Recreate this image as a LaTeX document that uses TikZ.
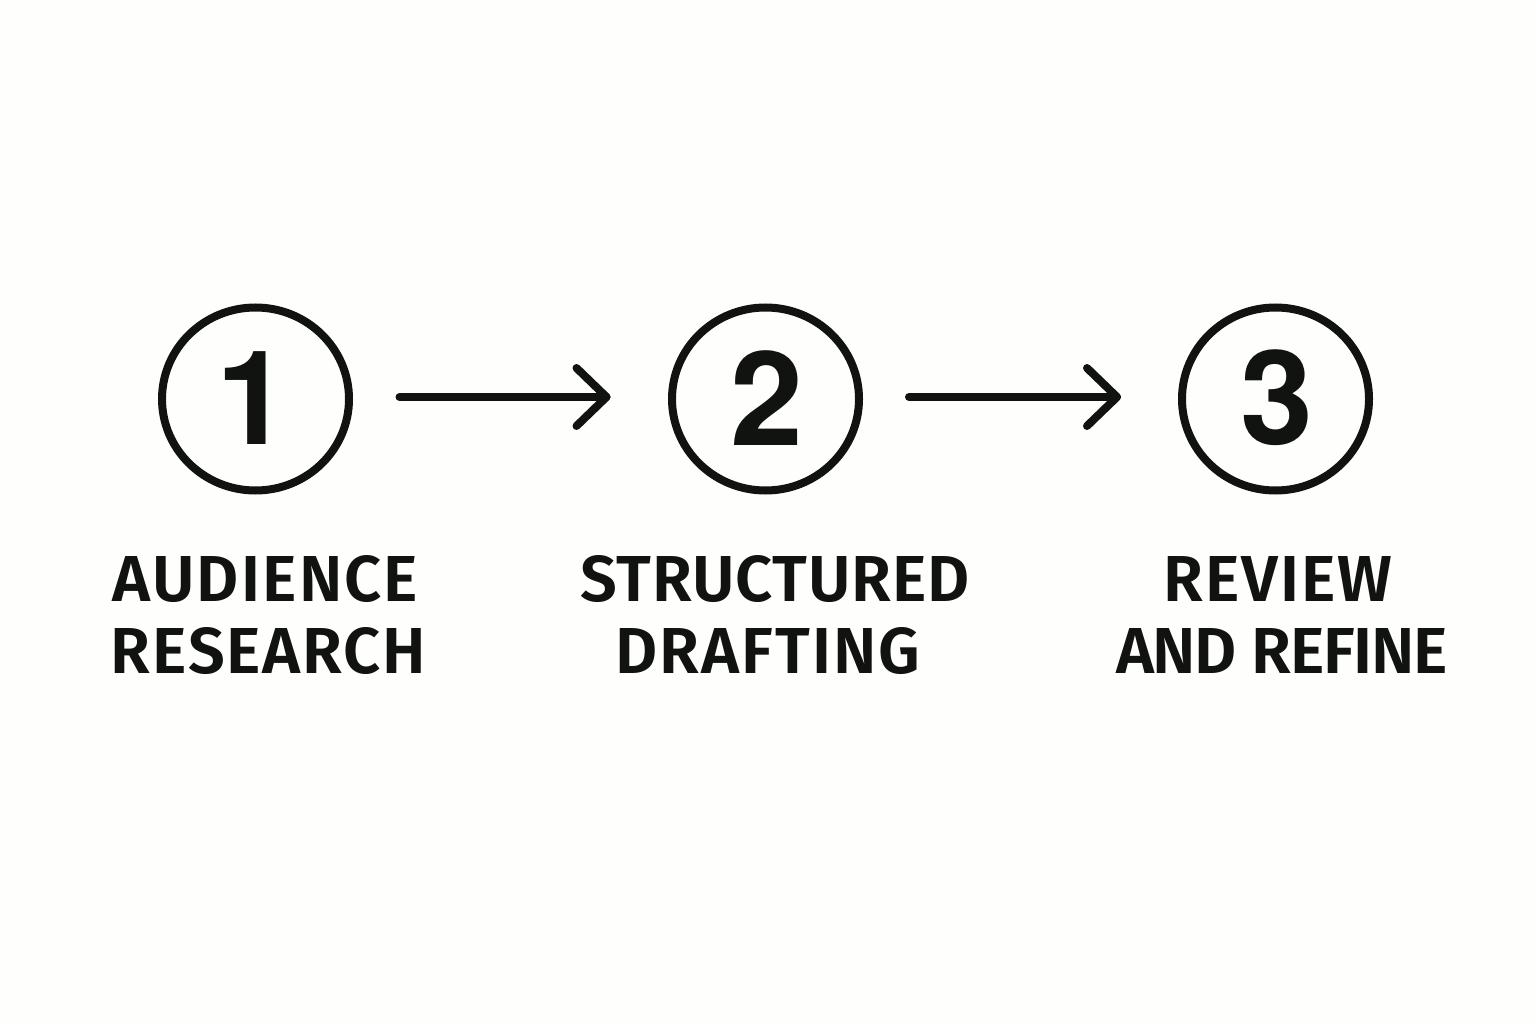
\documentclass[tikz,border=0pt]{standalone}
\usepackage{fontspec}
\setmainfont{TeX Gyre Heros}
\newfontfamily\labelfont{Fira Sans SemiBold}
\newcommand{\spaced}[2]{{\addfontfeature{LetterSpace=#1}#2}}
\usetikzlibrary{shapes.geometric}
\definecolor{ink}{HTML}{111311}
\definecolor{paper}{HTML}{FEFEFD}
\tikzset{
  x=1pt,y=-1pt,
  stepcircle/.style={ellipse,draw=ink,line width=8pt,minimum width=187pt,minimum height=183pt,inner sep=0pt},
  numtext/.style={text=ink,font=\fontsize{131}{131}\selectfont\bfseries,inner sep=0pt,anchor=center},
  labeltext/.style={text=ink,font=\labelfont\fontsize{65}{72}\selectfont,inner sep=0pt,anchor=base},
  flow/.style={draw=ink,line width=8pt,line cap=round,line join=round},
}
\begin{document}
\begin{tikzpicture}
\useasboundingbox[fill=paper] (0,0) rectangle (1536,1024);
\node[stepcircle] (c1) at (255.5,399) {};
\node[stepcircle] (c2) at (765.5,399) {};
\node[stepcircle] (c3) at (1275.5,399) {};
\node[numtext] (n1) at (252.5,398) {1};
\node[numtext] (n2) at (767,398) {2};
\node[numtext] (n3) at (1277,398) {3};
\node[labeltext] (l1a) at (265.5,601) {\spaced{3.3}{AUDIENCE}};
\node[labeltext] (l1b) at (268.5,673) {\spaced{2.9}{RESEARCH}};
\node[labeltext] (l2a) at (775,601) {\spaced{1.2}{STRUCTURED}};
\node[labeltext] (l2b) at (768,673) {\spaced{3.1}{DRAFTING}};
\node[labeltext] (l3a) at (1278,601) {\spaced{3.1}{REVIEW}};
\node[labeltext] (l3b) at (1282,673) {\spaced{-2}{AND REFINE}};
\coordinate (a1s) at (399.5,397);
\coordinate (a1e) at (606.5,397);
\coordinate (a2s) at (909,397);
\coordinate (a2e) at (1117,397);
\draw[flow] (a1s) -- (a1e);
\draw[flow] ([shift={(-30,-29)}]a1e) -- (a1e) -- ([shift={(-30,29)}]a1e);
\draw[flow] (a2s) -- (a2e);
\draw[flow] ([shift={(-30,-29)}]a2e) -- (a2e) -- ([shift={(-30,29)}]a2e);
\end{tikzpicture}
\end{document}
